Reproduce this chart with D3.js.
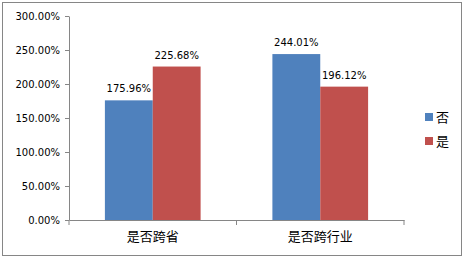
<!DOCTYPE html>
<html lang="zh">
<head>
  <meta charset="UTF-8">
  <title>是否跨省 / 是否跨行业</title>
  <script src="https://d3js.org/d3.v7.min.js"></script>
  <style>
    body { margin: 0; background: #fff; }
    text { font-family: "DejaVu Sans", sans-serif; fill: #000; }
    .cjk { font-family: "Noto Sans CJK SC", sans-serif; }
  </style>
</head>
<body>
  <div id="chart"></div>
  <script>
    const categories = ["是否跨省", "是否跨行业"];
    const seriesNames = ["否", "是"];
    const seriesNo = [175.96, 244.01];
    const seriesYes = [225.68, 196.12];
    const yTicks = [0, 50, 100, 150, 200, 250, 300];
    const colors = ["#4F81BD", "#C0504D"];

    const W = 465, H = 258;
    const margin = {top: 16, right: 61, bottom: 38, left: 69};
    const width = W - margin.left - margin.right,
          height = H - margin.top - margin.bottom;

    const svg = d3.select("#chart").append("svg")
      .attr("width", W).attr("height", H);

    // outer frame
    svg.append("rect")
      .attr("x", 2.5).attr("y", 2.5)
      .attr("width", W - 6).attr("height", H - 5)
      .attr("fill", "none").attr("stroke", "#868686");

    const g = svg.append("g")
      .attr("transform", `translate(${margin.left},${margin.top})`);

    const x0 = d3.scaleBand().domain(categories).range([0, width]).padding(0);
    // gap width 75% -> each side 0.75 of a bar
    const x1 = d3.scaleBand().domain(seriesNames).range([0, x0.bandwidth()])
      .paddingInner(0).paddingOuter(0.75);
    const y = d3.scaleLinear().domain([0, 300]).range([height, 0]);

    const data = categories.map((c, i) => ({
      cat: c,
      vals: [{s: seriesNames[0], v: seriesNo[i]}, {s: seriesNames[1], v: seriesYes[i]}]
    }));

    const groups = g.selectAll(".grp").data(data).enter().append("g")
      .attr("transform", d => `translate(${x0(d.cat)},0)`);

    groups.selectAll("rect").data(d => d.vals).enter().append("rect")
      .attr("x", d => x1(d.s))
      .attr("width", x1.bandwidth())
      .attr("y", d => y(d.v))
      .attr("height", d => height - y(d.v))
      .attr("fill", (d, i) => colors[i]);

    groups.selectAll(".lbl").data(d => d.vals).enter().append("text")
      .attr("x", d => x1(d.s) + x1.bandwidth() / 2)
      .attr("y", d => y(d.v) - 8)
      .attr("text-anchor", "middle")
      .style("font-size", "10px")
      .text(d => d.v.toFixed(2) + "%");

    // y axis
    const yAxis = g.append("g")
      .call(d3.axisLeft(y).tickValues(yTicks).tickSize(4).tickSizeOuter(0)
        .tickFormat(d => d.toFixed(2) + "%"));
    yAxis.select(".domain").attr("stroke", "#868686");
    yAxis.selectAll("line").attr("stroke", "#868686");
    yAxis.selectAll("text").style("font-size", "10px").attr("x", -9);

    // x axis
    const xAxis = g.append("g").attr("transform", `translate(0,${height})`)
      .call(d3.axisBottom(x0).tickSize(0).tickSizeOuter(0));
    xAxis.select(".domain").attr("stroke", "#868686");
    xAxis.selectAll("text").attr("class", "cjk").style("font-size", "13px").attr("y", 12);
    g.append("g").selectAll("line")
      .data([0, 1, 2]).enter().append("line")
      .attr("x1", d => d * x0.bandwidth()).attr("x2", d => d * x0.bandwidth())
      .attr("y1", height).attr("y2", height + 5)
      .attr("stroke", "#868686");

    // legend
    const legend = svg.append("g").attr("transform", "translate(425,112)");
    seriesNames.forEach((s, i) => {
      legend.append("rect")
        .attr("x", 0).attr("y", i * 24 + 1)
        .attr("width", 8).attr("height", 8)
        .attr("fill", colors[i]);
      legend.append("text")
        .attr("class", "cjk")
        .attr("x", 11).attr("y", i * 24 + 5)
        .attr("dy", "0.35em")
        .style("font-size", "13px")
        .text(s);
    });
  </script>
</body>
</html>
